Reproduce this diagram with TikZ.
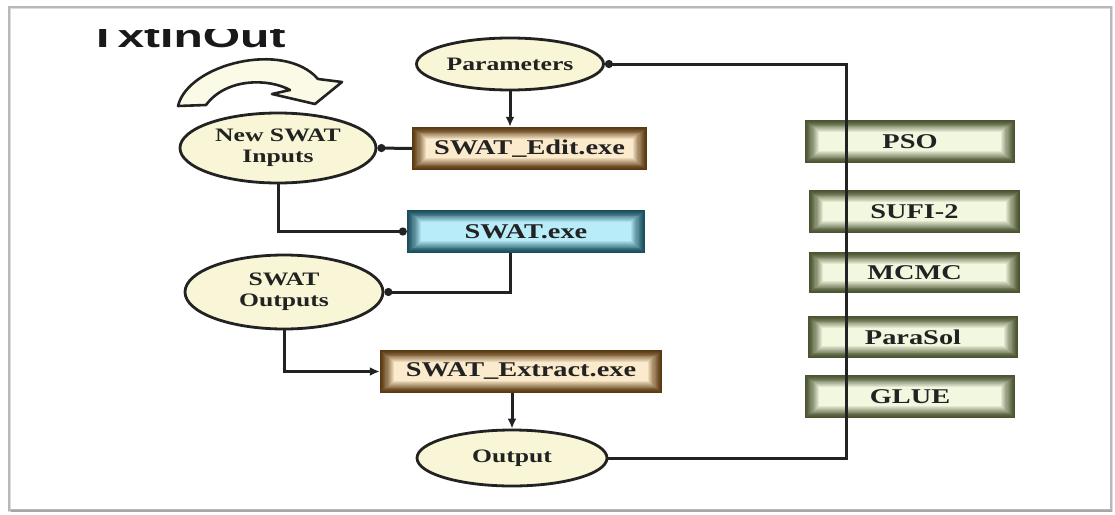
\documentclass[tikz,border=0pt]{standalone}
\usepackage{fontspec}
\newfontfamily\diagserif[FakeStretch=1.35]{Liberation Serif}
\newfontfamily\diagsans[FakeStretch=1.5]{Liberation Sans}
\usetikzlibrary{shapes.geometric,arrows.meta,backgrounds}
\definecolor{ink}{HTML}{222222}
\definecolor{cream}{HTML}{F8F6D6}
\definecolor{brownout}{HTML}{5A3810}
\definecolor{brownin}{HTML}{FBEACB}
\definecolor{blueout}{HTML}{1B4E5C}
\definecolor{bluein}{HTML}{B8ECF8}
\definecolor{greenout}{HTML}{4A5430}
\definecolor{greenin}{HTML}{F2F7E0}
\definecolor{framegray}{HTML}{B8B8B8}
\tikzset{
  oval/.style={ellipse, draw=ink, line width=2.8pt, fill=cream, inner sep=0pt,
    align=center, font=\diagserif\bfseries\fontsize{19}{21}\selectfont, text=ink},
  prog/.style={rectangle, inner sep=0pt, font=\diagserif\bfseries\fontsize{21}{24}\selectfont, text=ink},
  conn/.style={draw=ink, line width=3pt},
  dot/.style={-{Circle[length=8pt]}},
  tri/.style={-{Latex[length=10pt,width=9pt]}},
}
\newcommand\glowbox[3]{%
  \foreach \k in {0,...,14}{%
    \pgfmathtruncatemacro\p{min(100,100*(\k/13)^1.3)}%
    \fill[#3!\p!#2] ([shift={(\k*1.1pt,\k*0.95pt)}]#1.south west) rectangle ([shift={(-\k*1.1pt,-\k*0.95pt)}]#1.north east);
  }%
}
\begin{document}
\begin{tikzpicture}[x=1pt,y=-1pt]
\useasboundingbox (0,0) rectangle (1115,514);
% frame
\draw[framegray!50, line width=3pt] (9,7) rectangle (1111,510);
\draw[framegray, line width=1.2pt] (9,7) rectangle (1111,510);
\draw[gray!70, line width=2pt] (11,511) -- (1112,511);
% title (clipped at top)
\begin{scope}
  \clip (0,29.5) rectangle (400,80);
  \node[anchor=base west, inner sep=0pt, font=\diagsans\bfseries\fontsize{32}{36}\selectfont, text=black!90] (title) at (88,47) {TxtInOut};
\end{scope}
% curved arrow
\draw[ink, line width=2.6pt, fill=cream!60!white, line join=round]
  (178,106) .. controls (188,64) and (284,40) .. (318,79) -- (342,82) -- (315,104) -- (272,94) -- (290,90)
  .. controls (268,78) and (226,78) .. (206,105) -- cycle;
% ellipses
\node[oval, minimum width=187pt, minimum height=52pt] (param) at (510,64) {Parameters};
\node[oval, minimum width=196pt, minimum height=70pt] (newin) at (278,148) {New SWAT\\Inputs};
\node[oval, minimum width=198pt, minimum height=74pt] (swatout) at (284,292) {SWAT\\Outputs};
\node[oval, minimum width=190pt, minimum height=56pt] (output) at (512,458) {Output};
% program boxes
\node[prog, minimum width=235pt, minimum height=43pt] (edit) at (529.5,148.5) {SWAT\_Edit.exe};
\node[prog, minimum width=238pt, minimum height=43pt] (swatexe) at (526,231.5) {SWAT.exe};
\node[prog, minimum width=282pt, minimum height=43pt] (extract) at (521,371.5) {SWAT\_Extract.exe};
% algorithm boxes
\node[prog, minimum width=210pt, minimum height=43pt] (pso) at (910,141.5) {PSO};
\node[prog, minimum width=211pt, minimum height=43pt] (sufi) at (914.5,211.5) {SUFI-2};
\node[prog, minimum width=211pt, minimum height=41pt] (mcmc) at (914.5,272.5) {MCMC};
\node[prog, minimum width=210pt, minimum height=42pt] (parasol) at (913,337) {ParaSol};
\node[prog, minimum width=210pt, minimum height=43pt] (glue) at (910,396.5) {GLUE};
\begin{scope}[on background layer]
  \glowbox{edit}{brownout}{brownin}
  \glowbox{extract}{brownout}{brownin}
  \glowbox{swatexe}{blueout}{bluein}
  \glowbox{pso}{greenout}{greenin}
  \glowbox{sufi}{greenout}{greenin}
  \glowbox{mcmc}{greenout}{greenin}
  \glowbox{parasol}{greenout}{greenin}
  \glowbox{glue}{greenout}{greenin}
\end{scope}
% connectors
\coordinate (rail) at (846,0);
\draw[conn, tri] (param.south) -- (param.south |- edit.north);
\draw[conn, dot] (edit.west) -- (newin.east);
\draw[conn, dot] (newin.south) |- (swatexe.west);
\draw[conn, dot] ([xshift=-16pt]swatexe.south) |- (swatout.east);
\draw[conn, tri] (swatout.south) |- (extract.west);
\draw[conn, tri] (output.north |- extract.south) -- (output.north);
\draw[conn, dot] (output.east) -- (output.east -| rail) -- (param.east -| rail) -- (param.east);
\end{tikzpicture}
\end{document}
